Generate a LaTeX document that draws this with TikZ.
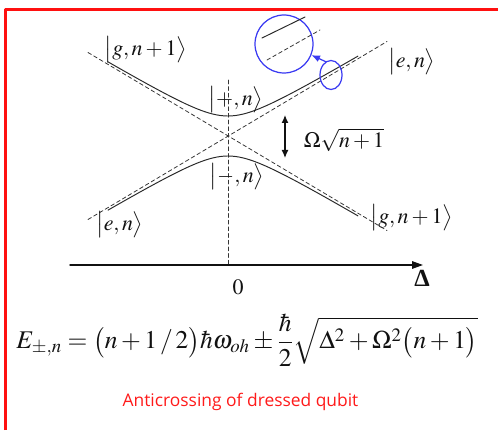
\documentclass[tikz,border=0pt]{standalone}
\usepackage{amsmath}
\usepackage{mathptmx}
\usepackage[no-math]{fontspec}
\newfontfamily\notefont{Open Sans}
\newfontfamily\deltafont{Liberation Serif}
\usepackage{tikz}
\usetikzlibrary{arrows.meta,positioning,shapes.geometric}
\definecolor{ink}{HTML}{111111}
\definecolor{framecol}{HTML}{FF1010}
\definecolor{annot}{HTML}{3A3AF2}
\definecolor{notecol}{HTML}{FF1A1A}
\tikzset{
  >={Latex[length=1.6mm,width=1.4mm]},
  ket/.style={inner sep=0pt, text=ink, font=\fontsize{12.5}{14}\selectfont},
  bare/.style={ink!85, line width=0.45pt, dash pattern=on 2.2pt off 1.6pt},
  dressed/.style={ink!90, line width=0.55pt},
  axisline/.style={ink, line width=0.8pt, -{Triangle[length=2.2mm,width=1.5mm]}},
  lens/.style={circle, draw=annot, line width=0.7pt, minimum size=1.16cm, inner sep=0pt},
  spot/.style={ellipse, draw=annot, line width=0.7pt, minimum width=0.44cm,
               minimum height=0.58cm, inner sep=0pt},
  note/.style={text=notecol, font=\notefont\fontsize{9.9}{11}\selectfont, inner sep=0pt},
}

\begin{document}
\begin{tikzpicture}[line cap=round, line join=round]
\useasboundingbox (0,0) rectangle (9.96,8.60);

% ===================== FRAME =====================
\draw[framecol, line width=1.2pt, line cap=butt] (0.11,0) -- (0.11,8.41) -- (9.96,8.41);

% ===================== BARE LEVELS =====================
\draw[bare] (1.76,7.55) -- (7.74,3.99);
\draw[bare] (1.76,4.21) -- (7.74,7.77);
\draw[bare] (4.56,7.00) -- (4.56,3.30);

% ===================== DRESSED LEVELS =====================
\draw[dressed] plot[domain=-2.40:2.60, samples=70]
  ({4.56+\x},{5.88+sqrt((0.595*\x)^2+0.16)});
\draw[dressed] plot[domain=-2.40:2.60, samples=70]
  ({4.56+\x},{5.88-sqrt((0.595*\x)^2+0.16)});

\node[ket] (gtl) at (2.92,7.60) {$\bigl|g,n+1\bigr\rangle$};
\node[ket] (etr) at (8.24,7.36) {$\bigl|e,n\bigr\rangle$};
\node[ket] (plus) at (4.72,6.60) {$\bigl|+,n\bigr\rangle$};
\node[ket] (minus) at (4.74,5.06) {$\bigl|-,n\bigr\rangle$};
\node[ket] (ebl) at (2.40,4.10) {$\bigl|e,n\bigr\rangle$};
\node[ket] (gbr) at (8.24,4.24) {$\bigl|g,n+1\bigr\rangle$};

% ---- splitting ----
\coordinate (gtop) at (5.70,6.30);
\coordinate (gbot) at (5.70,5.44);
\draw[<->, ink, line width=0.7pt] (gtop) -- (gbot);
\node[ket] (split) at (6.88,5.80) {$\Omega\sqrt{n+1}$};

% ===================== DETUNING AXIS =====================
\draw[axisline] (1.40,3.30) -- (8.46,3.30);
\node[ket] (zero) at (4.76,2.86) {$0$};
\node[ket, font=\deltafont\bfseries\fontsize{14}{15}\selectfont] (delta) at (8.44,3.04) {Δ};

% ===================== ANNOTATION =====================
\node[lens] (lens) at (5.68,7.72) {};
\node[spot] (spot) at (6.62,7.10) {};
\draw[dressed] (5.24,7.84) -- (6.10,8.26);
\draw[bare] (5.34,7.40) -- (6.40,8.00);
\draw[annot, line width=0.7pt, -{Latex[length=1.7mm,width=1.4mm]}] (spot.112) -- (lens.-22);

% ===================== FORMULA =====================
\node[ket, font=\fontsize{14.5}{17}\selectfont] (energy) at (4.94,1.80)
  {$E_{\pm,n}=\bigl(n+1\,/\,2\bigr)\hbar\omega_{oh}\pm\dfrac{\hbar}{2}\sqrt{\Delta^2+\Omega^2\bigl(n+1\bigr)}$};
\node[note] (title) at (4.81,0.56) {Anticrossing of dressed qubit};

\end{tikzpicture}
\end{document}
